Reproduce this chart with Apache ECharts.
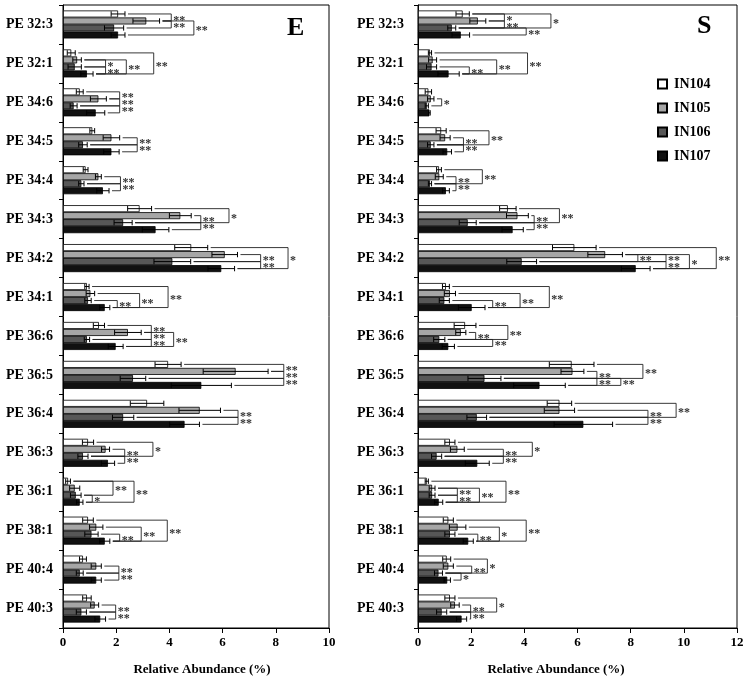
<!DOCTYPE html>
<html><head><meta charset="utf-8">
<script src="https://cdn.jsdelivr.net/npm/echarts@6/dist/echarts.min.js"></script>
<style>html,body{margin:0;padding:0;background:#fff}#c{width:747px;height:683px}</style>
</head><body><div id="c"></div>
<script>
const categories = ['PE 32:3','PE 32:1','PE 34:6','PE 34:5','PE 34:4','PE 34:3','PE 34:2','PE 34:1','PE 36:6','PE 36:5','PE 36:4','PE 36:3','PE 36:1','PE 38:1','PE 40:4','PE 40:3'];
const seriesNames = ['IN104','IN105','IN106','IN107'];
const xTicksE = [0,2,4,6,8,10];
const xTicksS = [0,2,4,6,8,10,12];

// Panel E means and SDs
const E_IN104 = [2.07,0.31,0.63,1.10,0.85,2.88,4.82,0.90,1.35,3.95,3.16,0.94,0.19,0.94,0.75,0.90];
const E_IN105 = [3.13,0.53,1.33,1.82,1.33,4.41,6.08,1.03,2.44,6.49,5.14,1.60,0.44,1.25,1.25,1.19];
const E_IN106 = [1.92,0.44,0.40,0.75,0.69,2.26,4.11,0.94,0.90,2.63,2.26,0.75,0.48,1.07,0.63,0.69];
const E_IN107 = [2.07,0.90,1.23,1.82,1.50,3.48,5.95,1.57,1.98,5.20,4.57,1.69,0.63,1.57,1.25,1.40];
const E_SD104 = [0.26,0.15,0.13,0.09,0.09,0.45,0.62,0.08,0.21,0.49,0.63,0.21,0.09,0.20,0.13,0.16];
const E_SD105 = [0.50,0.16,0.30,0.31,0.11,0.41,0.48,0.16,0.50,1.22,0.78,0.15,0.19,0.25,0.19,0.15];
const E_SD106 = [0.36,0.25,0.13,0.16,0.10,0.34,0.69,0.12,0.10,0.48,0.40,0.19,0.20,0.25,0.13,0.19];
const E_SD107 = [0.26,0.23,0.34,0.29,0.23,0.50,0.50,0.19,0.28,1.13,0.56,0.25,0.12,0.19,0.19,0.20];

// Panel S means and SDs
const S_IN104 = [1.68,0.45,0.39,0.87,0.79,3.38,5.88,1.05,1.77,5.78,5.32,1.20,0.33,1.14,1.08,1.20];
const S_IN105 = [2.25,0.55,0.48,1.02,0.80,3.74,7.04,1.20,1.61,5.81,5.32,1.48,0.53,1.49,1.14,1.39];
const S_IN106 = [1.27,0.51,0.33,0.48,0.45,1.87,3.90,0.99,0.80,2.50,2.21,0.70,0.53,1.20,0.77,0.89];
const S_IN107 = [1.61,1.15,0.43,1.10,1.05,3.56,8.19,2.02,1.14,4.57,6.22,2.23,0.78,1.89,1.10,1.64];
const S_SD104 = [0.25,0.06,0.12,0.19,0.09,0.31,0.82,0.13,0.41,0.84,0.46,0.19,0.06,0.19,0.15,0.19];
const S_SD105 = [0.30,0.15,0.12,0.19,0.15,0.41,0.65,0.21,0.19,0.43,0.57,0.26,0.11,0.31,0.19,0.16];
const S_SD106 = [0.15,0.19,0.06,0.12,0.06,0.32,0.56,0.19,0.21,0.62,0.37,0.19,0.11,0.19,0.15,0.19];
const S_SD107 = [0.33,0.40,0.03,0.16,0.13,0.40,0.54,0.50,0.23,0.97,1.10,0.45,0.15,0.19,0.12,0.19];

// Significance brackets: [category, rowA, rowB, bracket value, label]
const E_brackets = [
 [0,0,1,4.07,'**'],[0,1,2,4.07,'**'],[0,1,3,4.92,'**'],
 [1,1,2,1.6,'*'],[1,2,3,1.6,'**'],[1,1,3,2.38,'**'],[1,0,3,3.41,'**'],
 [2,0,1,2.13,'**'],[2,1,2,2.13,'**'],[2,2,3,2.13,'**'],
 [3,1,2,2.79,'**'],[3,2,3,2.79,'**'],
 [4,1,2,2.16,'**'],[4,2,3,2.16,'**'],
 [5,1,2,5.18,'**'],[5,2,3,5.18,'**'],[5,0,2,6.24,'*'],
 [6,1,2,7.43,'**'],[6,2,3,7.43,'**'],[6,0,3,8.46,'*'],
 [7,2,3,2.04,'**'],[7,1,3,2.88,'**'],[7,0,3,3.95,'**'],
 [8,0,1,3.32,'**'],[8,1,2,3.32,'**'],[8,2,3,3.32,'**'],[8,1,3,4.16,'**'],
 [9,0,1,8.3,'**'],[9,1,2,8.3,'**'],[9,2,3,8.3,'**'],
 [10,1,2,6.58,'**'],[10,2,3,6.58,'**'],
 [11,1,2,2.32,'**'],[11,2,3,2.32,'**'],[11,0,2,3.38,'*'],
 [12,2,3,1.1,'*'],[12,0,2,1.88,'**'],[12,0,3,2.67,'**'],
 [13,2,3,2.13,'**'],[13,1,3,2.94,'**'],[13,0,3,3.92,'**'],
 [14,1,2,2.1,'**'],[14,2,3,2.1,'**'],
 [15,1,2,1.98,'**'],[15,2,3,1.98,'**']
];
const S_brackets = [
 [0,0,1,3.25,'*'],[0,1,2,3.25,'**'],[0,2,3,4.07,'**'],[0,0,2,5.0,'*'],
 [1,2,3,1.93,'**'],[1,1,3,2.96,'**'],[1,0,3,4.12,'**'],
 [2,1,2,0.89,'*'],
 [3,1,2,1.71,'**'],[3,2,3,1.71,'**'],[3,0,2,2.67,'**'],
 [4,1,2,1.43,'**'],[4,2,3,1.43,'**'],[4,0,2,2.42,'**'],
 [5,1,2,4.37,'**'],[5,2,3,4.37,'**'],[5,0,2,5.32,'**'],
 [6,1,2,8.27,'**'],[6,1,2,9.33,'**'],[6,2,3,9.33,'**'],[6,1,3,10.21,'*'],[6,0,3,11.22,'**'],
 [7,2,3,2.81,'**'],[7,1,3,3.84,'**'],[7,0,3,4.94,'**'],
 [8,1,2,2.17,'**'],[8,2,3,2.81,'**'],[8,0,2,3.38,'**'],
 [9,1,2,6.73,'**'],[9,2,3,6.73,'**'],[9,2,3,7.63,'**'],[9,0,2,8.46,'**'],
 [10,1,2,8.65,'**'],[10,2,3,8.65,'**'],[10,0,2,9.71,'**'],
 [11,1,2,3.21,'**'],[11,2,3,3.21,'**'],[11,0,2,4.3,'*'],
 [12,1,2,1.48,'**'],[12,2,3,1.48,'**'],[12,1,3,2.31,'**'],[12,0,3,3.31,'**'],
 [13,2,3,2.25,'**'],[13,1,3,3.06,'*'],[13,0,3,4.07,'**'],
 [14,2,3,1.62,'*'],[14,1,2,2.02,'**'],[14,0,2,2.61,'*'],
 [15,1,2,1.98,'**'],[15,2,3,1.98,'**'],[15,0,2,2.96,'*']
];

const colors = ['#ffffff','#a6a6a6','#575757','#111111'];
const FONT = '"Liberation Serif", "Times New Roman", serif';
const BAR_FRAC = 0.18;

const panels = [
  {means:[E_IN104,E_IN105,E_IN106,E_IN107], sds:[E_SD104,E_SD105,E_SD106,E_SD107], brackets:E_brackets},
  {means:[S_IN104,S_IN105,S_IN106,S_IN107], sds:[S_SD104,S_SD105,S_SD106,S_SD107], brackets:S_brackets}
];

function rowY(api, cat, row){
  const c0 = api.coord([0, cat]);
  const band = Math.abs(api.coord([0, cat + 1])[1] - c0[1]);
  const bw = band * BAR_FRAC;
  return {y: c0[1] + (row - 1.5) * bw, bw: bw};
}

const series = [];
panels.forEach((p, pi) => {
  seriesNames.forEach((name, si) => {
    series.push({
      name: name, type: 'bar', xAxisIndex: pi, yAxisIndex: pi,
      data: p.means[si], barWidth: (BAR_FRAC*100)+'%', barGap: '0%',
      itemStyle: {color: colors[si], borderColor: '#000', borderWidth: 0.8},
      silent: true, animation: false
    });
  });
  const errData = [];
  p.means.forEach((arr, si) => arr.forEach((v, ci) => errData.push([ci, si, v, p.sds[si][ci]])));
  series.push({
    type: 'custom', xAxisIndex: pi, yAxisIndex: pi, data: errData, encode: {x: 2, y: 0},
    silent: true, animation: false, z: 5,
    renderItem: function(params, api){
      const cat = api.value(0), row = api.value(1), v = api.value(2), sd = api.value(3);
      const r = rowY(api, cat, row);
      const lo = api.coord([Math.max(0, v - sd), cat])[0];
      const hi = api.coord([v + sd, cat])[0];
      const cap = r.bw * 0.38;
      const st = {stroke: '#000', lineWidth: 1};
      return {type: 'group', children: [
        {type: 'line', shape: {x1: lo, y1: r.y, x2: hi, y2: r.y}, style: st},
        {type: 'line', shape: {x1: lo, y1: r.y - cap, x2: lo, y2: r.y + cap}, style: st},
        {type: 'line', shape: {x1: hi, y1: r.y - cap, x2: hi, y2: r.y + cap}, style: st}
      ]};
    }
  });
  const brData = p.brackets.map(b => [b[0], b[3]]);
  series.push({
    type: 'custom', xAxisIndex: pi, yAxisIndex: pi, data: brData, encode: {x: 1, y: 0},
    silent: true, animation: false, z: 6, clip: false,
    renderItem: function(params, api){
      const b = p.brackets[params.dataIndex];
      const cat = b[0], a = b[1], c = b[2], xv = b[3], lab = b[4];
      const ra = rowY(api, cat, a), rb = rowY(api, cat, c);
      const xb = api.coord([xv, cat])[0];
      const ea = api.coord([p.means[a][cat] + p.sds[a][cat], cat])[0] + 3;
      const eb = api.coord([p.means[c][cat] + p.sds[c][cat], cat])[0] + 3;
      const st = {stroke: '#222', lineWidth: 0.9};
      return {type: 'group', children: [
        {type: 'line', shape: {x1: ea, y1: ra.y, x2: xb, y2: ra.y}, style: st},
        {type: 'line', shape: {x1: eb, y1: rb.y, x2: xb, y2: rb.y}, style: st},
        {type: 'line', shape: {x1: xb, y1: ra.y, x2: xb, y2: rb.y}, style: st},
        {type: 'text', x: xb + 2, y: (ra.y + rb.y) / 2 + 3,
         style: {text: lab, fill: '#333', font: 'bold 12px ' + FONT, textAlign: 'left', textVerticalAlign: 'middle'}}
      ]};
    }
  });
});

function xAxis(idx, max){
  return {
    type: 'value', gridIndex: idx, min: 0, max: max, interval: 2,
    axisLine: {show: true, lineStyle: {color: '#000', width: 1}},
    axisTick: {show: true, length: 5, inside: false, lineStyle: {color: '#000'}},
    axisLabel: {color: '#000', fontFamily: FONT, fontWeight: 'bold', fontSize: 13, margin: 8},
    splitLine: {show: false}
  };
}
function yAxis(idx, margin){
  return {
    type: 'category', gridIndex: idx, data: categories, inverse: true,
    axisLine: {show: true, lineStyle: {color: '#000', width: 1}},
    axisTick: {show: true, length: 4, inside: false, alignWithLabel: false, lineStyle: {color: '#000'}},
    axisLabel: {color: '#000', fontFamily: FONT, fontWeight: 'bold', fontSize: 14, margin: margin},
    splitLine: {show: false}
  };
}

const chart = echarts.init(document.getElementById('c'), null, {renderer: 'canvas'});
chart.setOption({
  animation: false,
  backgroundColor: '#fff',
  grid: [
    {left: 63, top: 5, width: 266, height: 623, show: true, borderColor: '#000', borderWidth: 1, containLabel: false},
    {left: 418, top: 5, width: 319, height: 623, show: true, borderColor: '#000', borderWidth: 1, containLabel: false}
  ],
  xAxis: [xAxis(0, 10), xAxis(1, 12)],
  yAxis: [yAxis(0, 10), yAxis(1, 14)],
  legend: {
    data: seriesNames.map(n => ({name: n, icon: 'rect'})), orient: 'vertical', left: 652, top: 72,
    itemWidth: 9, itemHeight: 9, itemGap: 10, selectedMode: false,
    textStyle: {color: '#000', fontFamily: FONT, fontWeight: 'bold', fontSize: 14, padding: [0,0,0,2]}
  },
  graphic: [
    {type: 'text', left: 287, top: 15, style: {text: 'E', font: 'bold 26px ' + FONT, fill: '#000'}},
    {type: 'text', left: 697, top: 13, style: {text: 'S', font: 'bold 26px ' + FONT, fill: '#000'}},
    {type: 'text', x: 202, y: 670, style: {text: 'Relative Abundance (%)', font: 'bold 13px ' + FONT, fill: '#000', textAlign: 'center', textVerticalAlign: 'middle'}},
    {type: 'text', x: 556, y: 670, style: {text: 'Relative Abundance (%)', font: 'bold 13px ' + FONT, fill: '#000', textAlign: 'center', textVerticalAlign: 'middle'}}
  ],
  series: series
});
</script>
</body></html>
